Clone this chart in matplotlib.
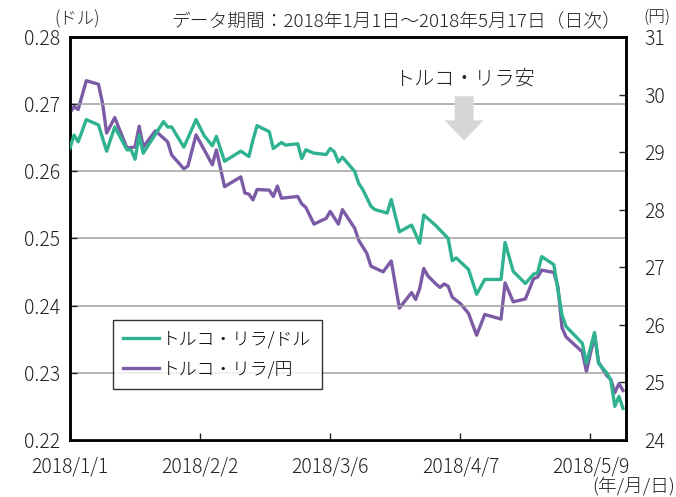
import matplotlib
matplotlib.use('Agg')
import matplotlib.pyplot as plt
from matplotlib.patches import FancyArrow
import pandas as pd

plt.rcParams['font.family'] = ['Noto Sans CJK JP', 'DejaVu Sans']
plt.rcParams['font.weight'] = 'light'

# トルコ・リラ/ドル
usd_dates = ['1/1', '1/2', '1/3', '1/5', '1/8', '1/10', '1/12', '1/15', '1/16', '1/17',
             '1/18', '1/19', '1/24', '1/25', '1/26', '1/29', '2/1', '2/3', '2/5', '2/6',
             '2/8', '2/12', '2/14', '2/15', '2/16', '2/19', '2/20', '2/22', '2/23', '2/26',
             '2/27', '2/28', '3/2', '3/5', '3/6', '3/7', '3/8', '3/9', '3/12', '3/13',
             '3/14', '3/16', '3/17', '3/20', '3/21', '3/23', '3/26', '3/28', '3/29', '4/1',
             '4/4', '4/5', '4/6', '4/9', '4/11', '4/13', '4/17', '4/18', '4/20', '4/23',
             '4/25', '4/26', '4/27', '4/30', '5/2', '5/3', '5/7', '5/8', '5/10', '5/11',
             '5/13', '5/14', '5/15', '5/16', '5/17']
usd_values = [0.2635, 0.2654, 0.2644, 0.2677, 0.2669, 0.2630, 0.2666, 0.2632, 0.2632, 0.2618,
              0.2654, 0.2627, 0.2674, 0.2666, 0.2666, 0.2636, 0.2677, 0.2653, 0.2638, 0.2652,
              0.2615, 0.2630, 0.2622, 0.2647, 0.2668, 0.2659, 0.2634, 0.2643, 0.2639, 0.2641,
              0.2619, 0.2632, 0.2627, 0.2625, 0.2634, 0.2629, 0.2614, 0.2621, 0.2600, 0.2582,
              0.2573, 0.2548, 0.2543, 0.2538, 0.2558, 0.2510, 0.2520, 0.2493, 0.2535, 0.2519,
              0.2500, 0.2467, 0.2471, 0.2454, 0.2417, 0.2439, 0.2439, 0.2494, 0.2451, 0.2433,
              0.2447, 0.2449, 0.2473, 0.2461, 0.2386, 0.2369, 0.2344, 0.2314, 0.2360, 0.2314,
              0.2300, 0.2289, 0.2250, 0.2265, 0.2247]

# トルコ・リラ/円
jpy_dates = ['1/1', '1/2', '1/3', '1/5', '1/8', '1/9', '1/10', '1/12', '1/15', '1/17',
             '1/18', '1/19', '1/22', '1/25', '1/26', '1/29', '1/30', '2/1', '2/5', '2/6',
             '2/8', '2/12', '2/13', '2/14', '2/15', '2/16', '2/19', '2/20', '2/21', '2/22',
             '2/26', '2/27', '2/28', '3/2', '3/5', '3/6', '3/8', '3/9', '3/12', '3/13',
             '3/15', '3/16', '3/19', '3/21', '3/23', '3/26', '3/27', '3/28', '3/29', '3/30',
             '4/1', '4/2', '4/3', '4/4', '4/5', '4/7', '4/9', '4/11', '4/13', '4/17',
             '4/18', '4/20', '4/23', '4/25', '4/26', '4/27', '4/30', '5/1', '5/2', '5/3',
             '5/7', '5/8', '5/10', '5/11', '5/13', '5/14', '5/15', '5/16', '5/17']
jpy_values = [29.69, 29.79, 29.74, 30.24, 30.18, 29.85, 29.33, 29.60, 29.07, 29.09,
              29.45, 29.09, 29.37, 29.18, 28.95, 28.71, 28.76, 29.30, 28.78, 29.04,
              28.40, 28.57, 28.29, 28.27, 28.17, 28.35, 28.34, 28.23, 28.41, 28.20,
              28.23, 28.10, 28.04, 27.75, 27.85, 27.97, 27.75, 28.00, 27.68, 27.47,
              27.24, 27.02, 26.92, 27.11, 26.29, 26.56, 26.44, 26.63, 26.98, 26.85,
              26.71, 26.65, 26.71, 26.67, 26.48, 26.37, 26.20, 25.82, 26.18, 26.10,
              26.73, 26.40, 26.45, 26.80, 26.83, 26.95, 26.91, 26.66, 25.95, 25.79,
              25.53, 25.19, 25.82, 25.35, 25.12, 25.05, 24.82, 24.98, 24.86]

tick_dates = ['2018/1/1', '2018/2/2', '2018/3/6', '2018/4/7', '2018/5/9']

GREEN = '#2fb290'
PURPLE = '#7b5ba6'
TEXT = '#222222'


def to_dates(md):
    return pd.to_datetime(['2018/' + d for d in md], format='%Y/%m/%d')


fig = plt.figure(figsize=(6.76, 4.97), dpi=100)
ax = fig.add_axes([0.1036, 0.1147, 0.8222, 0.8109])
ax2 = ax.twinx()

l1, = ax.plot(to_dates(usd_dates), usd_values, color=GREEN, lw=2.4, zorder=3,
              label='トルコ・リラ/ドル')
l2, = ax2.plot(to_dates(jpy_dates), jpy_values, color=PURPLE, lw=2.4, zorder=3,
               label='トルコ・リラ/円')

ax.set_ylim(0.22, 0.28)
ax.set_yticks([0.22, 0.23, 0.24, 0.25, 0.26, 0.27, 0.28])
ax.set_yticklabels(['0.22', '0.23', '0.24', '0.25', '0.26', '0.27', '0.28'])
ax2.set_ylim(24, 31)
ax2.set_yticks(range(24, 32))

x0 = pd.Timestamp('2018-01-01')
ax.set_xlim(x0, x0 + pd.Timedelta(days=136.7))
ticks = pd.to_datetime(tick_dates, format='%Y/%m/%d')
ax.set_xticks(ticks)
ax.set_xticklabels(tick_dates)

ax.grid(axis='y', color='#a0a0a0', lw=1.1)
ax.set_axisbelow(True)

for a in (ax, ax2):
    for s in a.spines.values():
        s.set_linewidth(1.8)
        s.set_color('black')
    a.tick_params(direction='in', labelsize=14, length=5, width=1, colors=TEXT)
ax.tick_params(axis='x', pad=12)
ax.tick_params(axis='y', pad=7)
ax2.tick_params(axis='y', pad=13)

fig.text(0.081, 0.962, '(ドル)', fontsize=12.5, ha='left', va='center', color=TEXT)
fig.text(0.952, 0.965, '(円)', fontsize=12, ha='left', va='center', color=TEXT)
fig.text(0.586, 0.958, 'データ期間：2018年1月1日～2018年5月17日（日次）', fontsize=13.5,
         ha='center', va='center', color=TEXT)
fig.text(0.999, 0.02, '(年/月/日)', fontsize=13.5, ha='right', va='center', color=TEXT)

ax.text(0.709, 0.897, 'トルコ・リラ安', transform=ax.transAxes, fontsize=14.5,
        ha='center', va='center', color=TEXT)
ax.add_patch(FancyArrow(0.709, 0.853, 0, -0.11, width=0.034, head_width=0.07,
                        head_length=0.05, length_includes_head=True,
                        transform=ax.transAxes, color='#d6d6d6', lw=0, zorder=2))

leg = ax.legend(handles=[l1, l2], loc='upper left', bbox_to_anchor=(0.077, 0.298),
                borderaxespad=0, fontsize=12.8, frameon=True, fancybox=False,
                handlelength=2.0, handletextpad=0.15, borderpad=0.6, labelspacing=0.65)
leg.get_frame().set_edgecolor('black')
leg.get_frame().set_linewidth(1)
ax.set_zorder(ax2.get_zorder() + 1)
ax.patch.set_visible(False)

fig.savefig('out.png', dpi=100)
